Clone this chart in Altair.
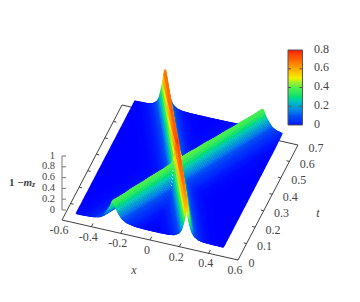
import numpy as np
import pandas as pd
import altair as alt

alt.data_transformers.disable_max_rows()

# values
x_ticks = [-0.6, -0.4, -0.2, 0, 0.2, 0.4, 0.6]
x_labels = ["-0.6", "-0.4", "-0.2", "0", "0.2", "0.4", "0.6"]
t_ticks = [0, 0.1, 0.2, 0.3, 0.4, 0.5, 0.6, 0.7]
t_labels = ["0", "0.1", "0.2", "0.3", "0.4", "0.5", "0.6", "0.7"]
z_ticks = [0, 0.2, 0.4, 0.6, 0.8, 1]
z_labels = ["0", "0.2", "0.4", "0.6", "0.8", "1"]
cb_ticks = [0, 0.2, 0.4, 0.6, 0.8]
cb_labels = ["0", "0.2", "0.4", "0.6", "0.8"]

# ridge crests: time, x position, height
a_t = [0, 0.68]
a_x = [0.25, -0.295]
ah_t = [0, 0.03, 0.1, 0.3, 0.5, 0.68]
ah_z = [0.60, 0.66, 0.72, 0.78, 0.74, 0.72]
b_t = [0, 0.68]
b_x = [-0.25, 0.37]
bh_t = [0, 0.1, 0.25, 0.35, 0.5, 0.68]
bh_z = [0.39, 0.40, 0.41, 0.42, 0.40, 0.39]
# ridge cross-section: distance from crest, fraction of crest height
prof_d = [0, 0.005, 0.015, 0.035, 0.06, 0.09, 0.14, 0.2, 0.3, 0.5]
prof_f = [1, 0.95, 0.75, 0.5, 0.25, 0.12, 0.04, 0.012, 0.003, 0]
width_a = 0.6
width_b = 1.0

# colour bar
pal_z = [0, 0.1, 0.2, 0.3, 0.4, 0.45, 0.5, 0.6, 0.7, 0.8]
pal_c = ["#0000ff", "#0050f0", "#00a0c8", "#00e070", "#50f048", "#98f030", "#f0f000", "#ffa800", "#ff6000", "#ff0000"]
T_MAX = 0.68

W, H = 344, 286


def proj(x, t, z=0.0, lift=10.0):
    """Project plot coordinates to the chart's frame."""
    x = np.asarray(x, float)
    t = np.asarray(t, float)
    sx = 62 + (x + 0.6) / 1.2 * 176 + t / 0.7 * 60
    sy = 220 + (x + 0.6) / 1.2 * 40 - t / 0.7 * 115 - lift - np.asarray(z) * 54
    return sx - 8, sy - 8


def surface():
    ts = np.linspace(T_MAX, 0, 92)
    xs = np.linspace(-0.5, 0.5, 161)
    rows = []
    for t in ts:
        ca, cb = np.interp(t, a_t, a_x), np.interp(t, b_t, b_x)
        ha, hb = np.interp(t, ah_t, ah_z), np.interp(t, bh_t, bh_z)
        za = ha * np.interp(np.abs(xs - ca) / width_a, prof_d, prof_f)
        zb = hb * np.interp(np.abs(xs - cb) / width_b, prof_d, prof_f)
        z = np.minimum((za ** 3 + zb ** 3) ** (1 / 3), 0.8)
        sx, sy = proj(xs, t, z)
        for i in range(len(xs) - 1):
            zm = (z[i] + z[i + 1]) / 2
            depth = 4628 * (xs[i] + xs[i + 1]) / 2 - 7922 * t + 26913 * zm
            rows.append((round(sx[i], 2), round(sy[i], 2), round(sx[i + 1], 2), round(sy[i + 1], 2),
                         round(zm, 3), depth))
    df = pd.DataFrame(rows, columns=["x", "y", "x2", "y2", "z", "d"]).sort_values("d", kind="stable")
    return df.drop(columns="d").reset_index(drop=True)


X = alt.X("x:Q", axis=None, scale=alt.Scale(domain=[0, W], nice=False, zero=False))
Y = alt.Y("y:Q", axis=None, scale=alt.Scale(domain=[0, H], reverse=True, nice=False, zero=False))
COLOR = alt.Color("z:Q", legend=None, scale=alt.Scale(domain=pal_z, range=pal_c))
FONT = "Liberation Serif"
TXT = "#444444"


def seg_chart(segs, color="#404040", width=1.0):
    df = pd.DataFrame(segs, columns=["x", "y", "x2", "y2"])
    return alt.Chart(df).mark_rule(color=color, strokeWidth=width).encode(X, Y, x2="x2:Q", y2="y2:Q")


def text_chart(xs, ys, labels, align="center", size=12, **kw):
    df = pd.DataFrame({"x": xs, "y": ys, "label": labels})
    return alt.Chart(df).mark_text(align=align, baseline="middle", font=FONT, fontSize=size, color=TXT, **kw).encode(
        X, Y, text="label:N")


def line(a, b):
    return (float(a[0]), float(a[1]), float(b[0]), float(b[1]))


layers = []
# box behind the surface
axes = [
    line(proj(-0.6, 0.7, lift=0), proj(0.6, 0.7, lift=0)),
    line(proj(0.6, 0.7, lift=0), proj(0.6, 0, lift=0)),
    line(proj(0.6, 0, lift=0), proj(-0.6, 0, lift=0)),
    line(proj(-0.6, 0, lift=0), proj(-0.6, 0.7, lift=0)),
]
for v in x_ticks[1:-1]:
    axes.append(line(proj(v, 0, lift=0), proj(v, 0.02, lift=0)))
for v in t_ticks[1:-1]:
    axes.append(line(proj(-0.6, v, lift=0), proj(-0.58, v, lift=0)))
    axes.append(line(proj(0.6, v, lift=0), proj(0.58, v, lift=0)))
layers.append(seg_chart(axes))

# vertical axis
zseg = [line(proj(-0.6, 0, 0), proj(-0.6, 0, 1))]
for v in z_ticks:
    a = proj(-0.6, 0, v)
    zseg.append((float(a[0]), float(a[1]), float(a[0]) + 4, float(a[1])))
layers.append(seg_chart(zseg, color="#777777"))

# surface
layers.append(alt.Chart(surface()).mark_rule(strokeWidth=2.0, strokeCap="round").encode(X, Y, x2="x2:Q", y2="y2:Q", color=COLOR))

# axis labels
px, py = proj(np.array(x_ticks), 0, lift=0)
layers.append(text_chart(px - 3, py + 10, x_labels))
px, py = proj(0.6, np.array(t_ticks), lift=0)
layers.append(text_chart(px + 10.4, py + 2.5, t_labels, align="left"))
px, py = proj(-0.6, 0, np.array(z_ticks))
layers.append(text_chart(np.full(len(z_ticks), 47.0), py - 0.5, z_labels, align="right", size=10.5))
layers.append(text_chart([126], [262], ["x"], fontStyle="italic"))
layers.append(text_chart([310], [205], ["t"], fontStyle="italic"))
layers.append(text_chart([1], [175], ["1 −"], align="left", fontWeight="bold", size=11))
layers.append(text_chart([15.5], [175], ["m"], align="left", fontWeight="bold", fontStyle="italic", size=11))
layers.append(text_chart([24], [177], ["z"], align="left", size=8, fontWeight="bold", fontStyle="italic"))

# colour bar
CBX0, CBX1, CBY0, CBY1 = 280, 294.5, 117, 42
edges = np.linspace(0, 0.8, 76)
cb = pd.DataFrame({
    "x": CBX0, "x2": CBX1,
    "y": CBY0 + (edges[:-1]) / 0.8 * (CBY1 - CBY0),
    "y2": CBY0 + (edges[1:]) / 0.8 * (CBY1 - CBY0),
    "z": (edges[:-1] + edges[1:]) / 2,
})
layers.append(alt.Chart(cb).mark_rect(strokeWidth=0).encode(X, Y, x2="x2:Q", y2="y2:Q", color=COLOR))
frame = [
    (CBX0, CBY0, CBX1, CBY0), (CBX0, CBY1, CBX1, CBY1),
    (CBX0, CBY0, CBX0, CBY1), (CBX1, CBY0, CBX1, CBY1),
]
for v in cb_ticks[1:-1]:
    y = CBY0 + v / 0.8 * (CBY1 - CBY0)
    frame.append((CBX0, y, CBX0 + 3, y))
    frame.append((CBX1, y, CBX1 - 3, y))
layers.append(seg_chart(frame, color="#555555"))
layers.append(text_chart(np.full(5, 306.0), [CBY0 + v / 0.8 * (CBY1 - CBY0) - 1.5 for v in cb_ticks], cb_labels, align="left"))

chart = alt.layer(*layers).properties(
    width=W, height=H, padding=0, autosize=alt.AutoSizeParams(type="none"), background="white"
).configure_view(strokeWidth=0)

chart.save("out.html", embed_options={"renderer": "svg", "actions": False})
